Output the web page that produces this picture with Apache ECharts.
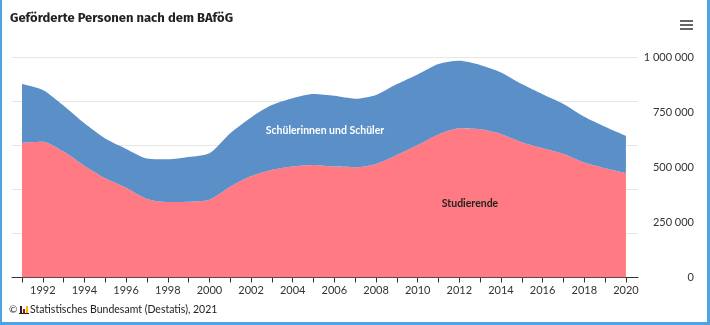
<!DOCTYPE html>
<html><head><meta charset="utf-8">
<script src="https://cdn.jsdelivr.net/npm/echarts@6/dist/echarts.min.js"></script>
<style>html,body{margin:0;padding:0;background:#fff}#c{width:710px;height:325px}</style>
</head><body><div id="c"></div>
<script>
const years = [1991,1992,1993,1994,1995,1996,1997,1998,1999,2000,2001,2002,2003,2004,2005,2006,2007,2008,2009,2010,2011,2012,2013,2014,2015,2016,2017,2018,2019,2020];
const studierende = [611000,616000,571000,506000,450000,407000,356000,342000,344000,353000,412000,460000,488000,503000,510000,503000,500000,515000,556000,601000,649000,677000,672000,651000,613000,586000,560000,521000,495000,473000];
const schueler = [266000,234000,208000,193000,180000,176000,184000,194000,202000,210000,242000,266000,294000,310000,322000,321000,311000,313000,321000,320000,319000,306000,292000,279000,264000,245000,227000,208000,189000,170000];
const yTicks = [0,250000,500000,750000,1000000];
const xLabelYears = [1992,1994,1996,1998,2000,2002,2004,2006,2008,2010,2012,2014,2016,2018,2020];
const seriesNames = ['Studierende','Schülerinnen und Schüler'];
const titleText = 'Geförderte Personen nach dem BAföG';
const sourceText = 'Statistisches Bundesamt (Destatis), 2021';

const chart = echarts.init(document.getElementById('c'), null, {renderer:'canvas'});
const fmt = v => String(v).replace(/\B(?=(\d{3})+(?!\d))/g, ' ');
chart.setOption({
  animation:false,
  backgroundColor:'#fff',
  grid:{left:12,right:72,top:57,bottom:325-277.5},
  xAxis:{type:'value',min:1990.52,max:2020.58,
    axisLine:{show:true,lineStyle:{color:'#333',width:1}},
    axisTick:{show:true,customValues:years,length:5,lineStyle:{color:'#333'}},
    axisLabel:{customValues:xLabelYears,formatter:v=>String(v),color:'#333',fontSize:11,fontFamily:'Lato, sans-serif',margin:7},
    splitLine:{show:false}},
  yAxis:{type:'value',position:'right',min:0,max:1000000,
    axisLine:{show:false},axisTick:{show:false},
    axisLabel:{customValues:yTicks,formatter:fmt,align:'right',margin:56,color:'#333',fontSize:11,fontFamily:'Lato, sans-serif'},
    splitLine:{show:true,lineStyle:{color:'#e6e6e6',width:1}}},
  series:[
    {name:seriesNames[0],type:'line',stack:'a',smooth:0.25,symbol:'none',
     data:years.map((y,i)=>[studierende[i],y]),encode:{x:1,y:0},
     lineStyle:{width:0},areaStyle:{color:'#ff7a82',opacity:1}},
    {name:seriesNames[1],type:'line',stack:'a',smooth:0.25,symbol:'none',
     data:years.map((y,i)=>[schueler[i],y]),encode:{x:1,y:0},
     lineStyle:{width:0},areaStyle:{color:'#5b8fc8',opacity:1}}
  ],
  graphic:{elements:[
    {type:'text',z:100,left:10,top:12,style:{text:titleText,font:'bold 13px "Fira Sans", "Open Sans", sans-serif',fill:'#222'}},
    {type:'text',z:100,x:325,y:131,style:{text:seriesNames[1],font:'bold 10.5px Lato, sans-serif',fill:'#fff',align:'center',verticalAlign:'middle'}},
    {type:'text',z:100,x:470,y:204,style:{text:seriesNames[0],font:'bold 10.5px Lato, sans-serif',fill:'#222',align:'center',verticalAlign:'middle'}},
    {type:'rect',z:100,shape:{x:680,y:20,width:13,height:2},style:{fill:'#666'}},
    {type:'rect',z:100,shape:{x:680,y:24,width:13,height:2},style:{fill:'#666'}},
    {type:'rect',z:100,shape:{x:680,y:28,width:13,height:2},style:{fill:'#666'}},
    {type:'text',z:100,x:9,y:310,style:{text:'©',font:'10px Lato, sans-serif',fill:'#333',verticalAlign:'middle'}},
    {type:'rect',z:100,shape:{x:20,y:306,width:2,height:8},style:{fill:'#222'}},
    {type:'rect',z:100,shape:{x:23,y:309,width:2,height:5},style:{fill:'#d00'}},
    {type:'rect',z:100,shape:{x:26,y:306,width:2,height:8},style:{fill:'#f5b800'}},
    {type:'rect',z:100,shape:{x:19,y:313,width:10,height:1},style:{fill:'#222'}},
    {type:'text',z:100,x:30,y:310,style:{text:sourceText,font:'10.5px Lato, sans-serif',fill:'#222',verticalAlign:'middle'}},
    {type:'rect',z:100,shape:{x:0,y:0,width:2,height:325},style:{fill:'#4fa3e3'}},
    {type:'rect',z:100,shape:{x:707,y:0,width:3,height:325},style:{fill:'#4fa3e3'}},
    {type:'rect',z:100,shape:{x:0,y:322,width:710,height:3},style:{fill:'#4fa3e3'}}
  ]}
});
</script></body></html>
